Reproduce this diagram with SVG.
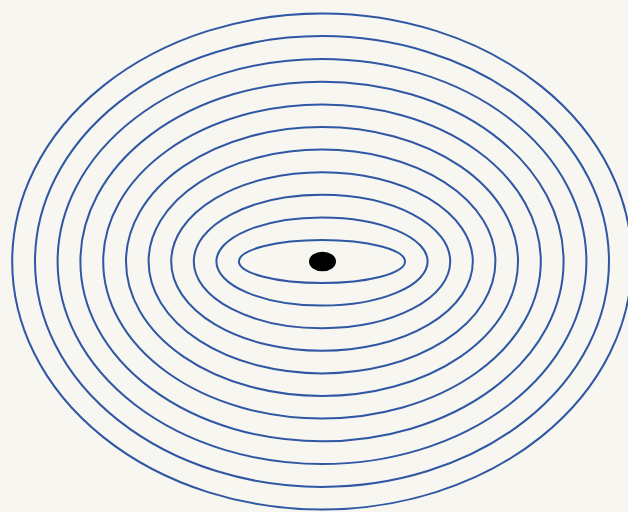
<svg xmlns="http://www.w3.org/2000/svg" width="628" height="512" viewBox="0 0 628 512">
<style>
.ring{fill:none;stroke:#2f57a3;stroke-width:2}
</style>
<rect width="628" height="512" fill="#f7f6f0"/>
<g id="rings">
<ellipse class="ring" cx="322" cy="261.5" rx="83" ry="21.5"/>
<ellipse class="ring" cx="322" cy="261.5" rx="105.6" ry="44.1"/>
<ellipse class="ring" cx="322" cy="261.5" rx="128.2" ry="66.7"/>
<ellipse class="ring" cx="322" cy="261.5" rx="150.8" ry="89.3"/>
<ellipse class="ring" cx="322" cy="261.5" rx="173.4" ry="111.9"/>
<ellipse class="ring" cx="322" cy="261.5" rx="196" ry="134.5"/>
<ellipse class="ring" cx="322" cy="261.5" rx="218.8" ry="157"/>
<ellipse class="ring" cx="322" cy="261.5" rx="241.6" ry="179.8"/>
<ellipse class="ring" cx="322" cy="261.5" rx="264.4" ry="202.6"/>
<ellipse class="ring" cx="322" cy="261.5" rx="287" ry="225.4"/>
<ellipse class="ring" cx="322" cy="261.5" rx="309.8" ry="248"/>
</g>
<g id="center">
<ellipse cx="322.5" cy="261.5" rx="13.5" ry="9.8" fill="#000"/>
</g>
</svg>
